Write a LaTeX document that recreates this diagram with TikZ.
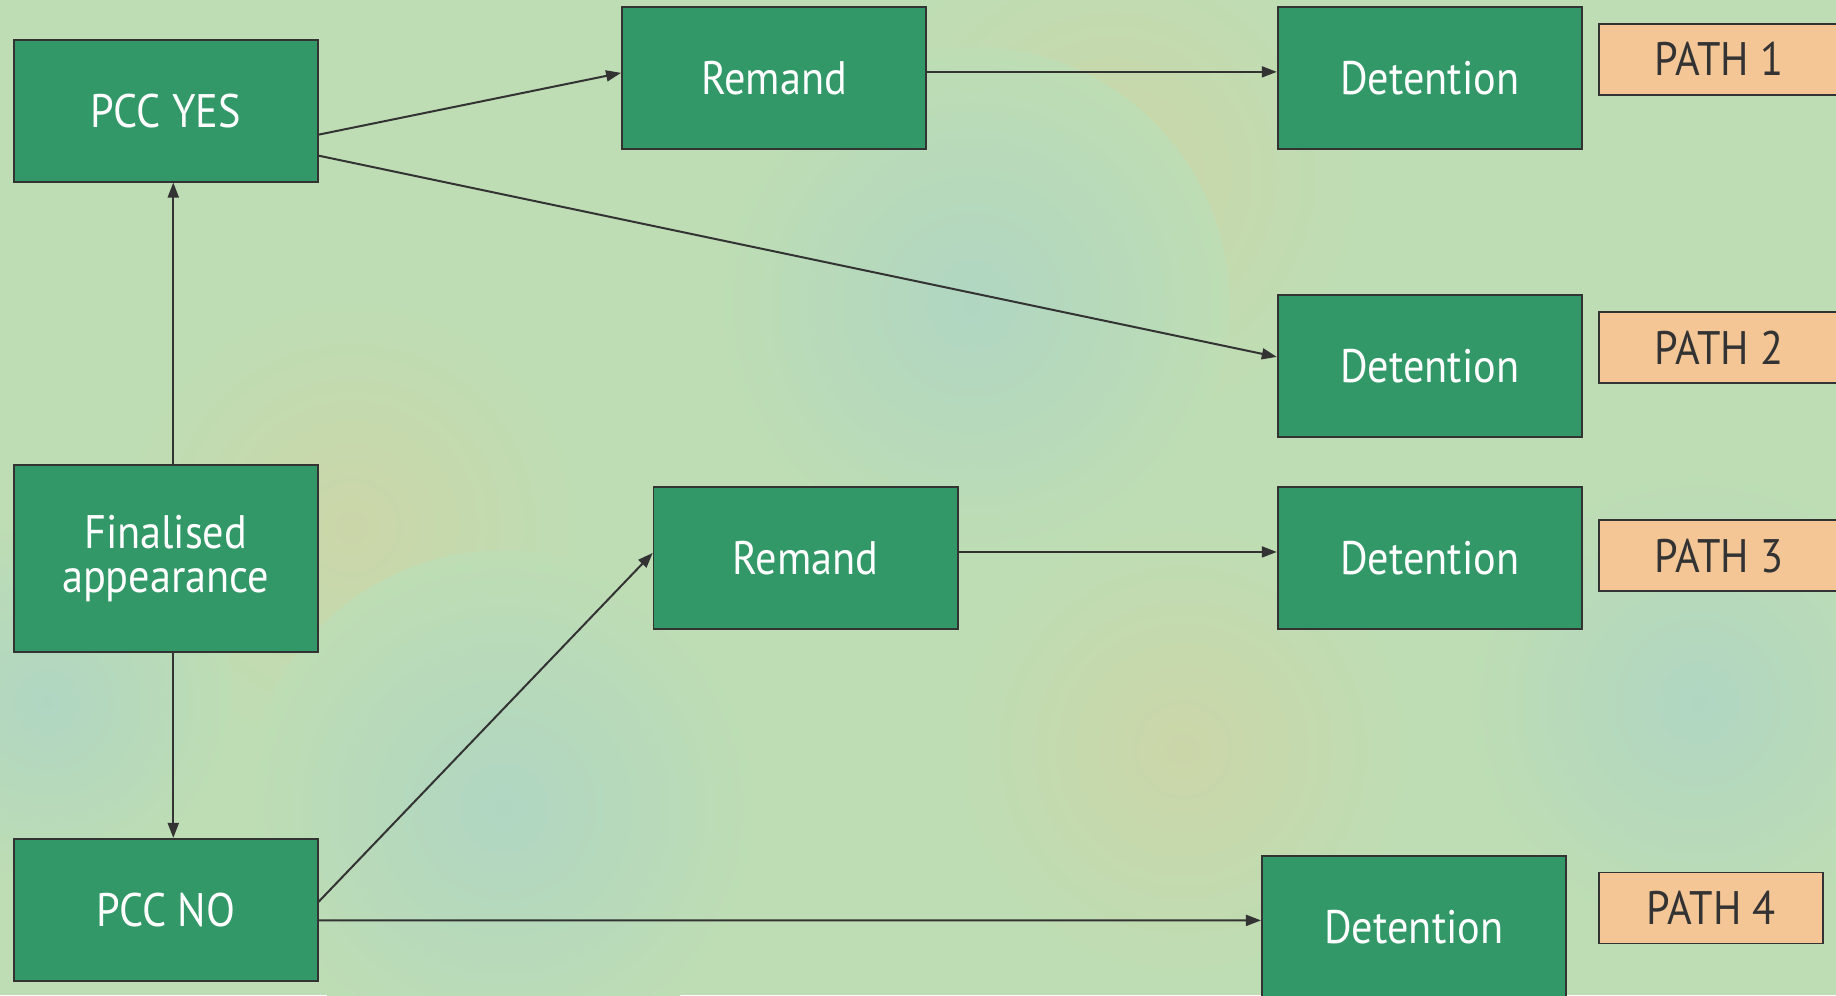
\documentclass[tikz,border=0pt]{standalone}
\usepackage{fontspec}
\setmainfont{PT Sans}[FakeStretch=0.9]
\usetikzlibrary{arrows.meta}

\definecolor{paper}{RGB}{190,221,180}
\definecolor{boxgreen}{RGB}{50,152,104}
\definecolor{peach}{RGB}{244,198,150}
\definecolor{ink}{RGB}{51,51,51}
\definecolor{sand}{RGB}{203,214,168}
\definecolor{mist}{RGB}{176,214,194}

\begin{document}
\begin{tikzpicture}[x=1.1709pt, y=-1.1709pt,
  box/.style={draw=ink, fill=boxgreen, text=white, line width=1.8pt,
    minimum width=304pt, minimum height=142pt, inner sep=0pt, align=center,
    font=\fontsize{47}{44.5}\selectfont},
  tag/.style={draw=ink, fill=peach, text=ink, line width=1.8pt, anchor=west,
    minimum width=239pt, minimum height=71pt, inner sep=0pt,
    font=\fontsize{47}{47}\selectfont},
  blob/.style={inner color=#1, outer color=paper},
  link/.style={draw=ink, line width=2pt, -{Triangle[length=15pt,width=11pt]}}]
\clip (0,0) rectangle (1568,850);
\fill[paper] (0,0) rectangle (1568,850);
% soft background patches
\foreach \px/\py/\r/\c in {300/450/200/sand, 950/150/220/sand, 830/260/220/mist,
  430/690/220/mist, 1010/640/200/sand, 1450/600/200/mist, 40/600/160/mist}
  \shade[blob=\c] (\px,\py) circle (\r);

% boxes
\node[box] (pccyes) at (141.5,94.5) {PCC YES};
\node[box, minimum height=187pt] (final) at (141.5,477) {Finalised\\appearance};
\node[box] (pccno) at (141.5,777) {PCC NO};
\node[box] (remA) at (661,66.5) {Remand};
\node[box] (remB) at (688,476.5) {Remand};
\node[box] (detA) at (1221,66.5) {Detention};
\node[box] (detB) at (1221,312.5) {Detention};
\node[box] (detC) at (1221,476.5) {Detention};
\node[box] (detD) at (1207.5,791.5) {Detention};

% path labels
\node[tag] (pathA) at (1365,50.5) {PATH 1};
\node[tag] (pathB) at (1365,297) {PATH 2};
\node[tag] (pathC) at (1365,474.5) {PATH 3};
\node[tag, minimum width=224pt] (pathD) at (1365,775.5) {PATH 4};

% connectors
\draw[link] ([xshift=7.6pt]final.north) -- ([xshift=7.6pt]pccyes.south);
\draw[link] ([xshift=7.6pt]final.south) -- ([xshift=7.6pt]pccno.north);
\draw[link] ([yshift=-24pt]pccyes.east) -- ([yshift=5pt]remA.west);
\draw[link] ([yshift=-45pt]pccyes.east) -- ([yshift=9pt]detB.west);
\draw[link] ([yshift=6pt]remA.east) -- ([yshift=6pt]detA.west);
\draw[link] ([yshift=8pt]pccno.east) -- ([yshift=5pt]remB.west);
\draw[link] ([yshift=-10.5pt]pccno.east) -- ([yshift=6.4pt]detD.west);
\draw[link] ([yshift=6pt]remB.east) -- ([yshift=6pt]detC.west);
\end{tikzpicture}
\end{document}
